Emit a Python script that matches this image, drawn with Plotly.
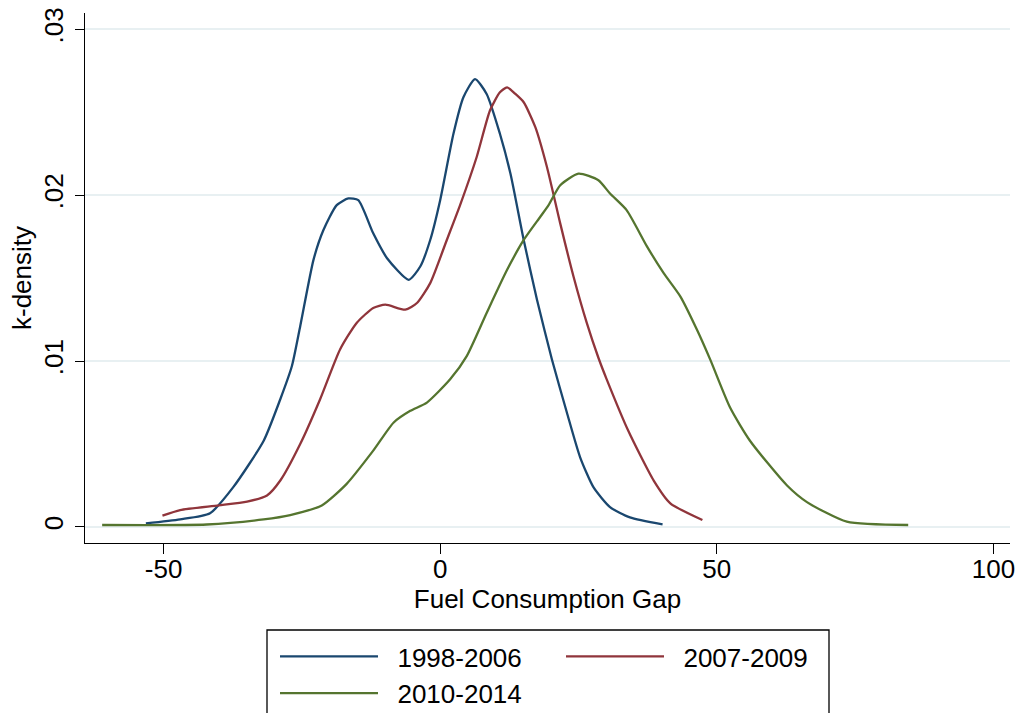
import plotly.graph_objects as go

# ---- data ----
x_1998 = [-53.2, -47.0, -41.6, -37.4, -31.9, -28.9, -26.8, -25.3, -22.9, -21.1, -18.7, -16.6, -14.8,
          -12.1, -9.6, -5.7, -3.6, -1.8, 0.0, 2.4, 4.2, 6.3, 8.4, 10.8, 12.7, 15.1, 17.5, 20.2,
          22.9, 25.3, 27.7, 30.7, 34.3, 40.2]
y_1998 = [0.00022, 0.00046, 0.00083, 0.0024, 0.0052, 0.0077, 0.0097, 0.0121, 0.0161, 0.0179, 0.0194,
          0.0198, 0.0197, 0.0177, 0.0162, 0.0149, 0.0157, 0.0173, 0.0197, 0.0237, 0.0259, 0.0270,
          0.0261, 0.0237, 0.0213, 0.0173, 0.0137, 0.0101, 0.0069, 0.0042, 0.0024, 0.0012, 0.00058,
          0.00016]

x_2007 = [-50.2, -47.0, -40.0, -34.9, -31.3, -28.9, -25.3, -21.7, -18.1, -15.1, -12.1, -9.9, -6.3,
          -4.2, -1.8, 1.2, 3.6, 6.6, 9.0, 10.8, 12.1, 13.6, 15.1, 17.2, 19.3, 21.7, 24.1, 26.5,
          28.6, 30.1, 34.0, 38.6, 41.6, 47.4]
y_2007 = [0.00068, 0.00102, 0.0013, 0.00153, 0.0019, 0.0028, 0.0050, 0.0077, 0.0107, 0.0123, 0.0132,
          0.0134, 0.0131, 0.0135, 0.0147, 0.0173, 0.0194, 0.0223, 0.0251, 0.0262, 0.0265, 0.0261,
          0.0256, 0.0241, 0.0217, 0.0183, 0.0151, 0.0123, 0.0102, 0.0089, 0.0058, 0.0028, 0.00143,
          0.00042]

x_2010 = [-61.1, -42.2, -31.9, -27.1, -21.4, -16.9, -12.1, -8.4, -5.4, -2.4, 1.8, 4.8, 8.4, 12.1,
          15.1, 18.1, 19.6, 21.7, 25.0, 28.6, 30.7, 33.7, 37.4, 40.4, 43.4, 46.4, 48.8, 52.4, 56.0,
          62.7, 66.3, 73.5, 84.6]
y_2010 = [0.00012, 0.00015, 0.00046, 0.00072, 0.0013, 0.0026, 0.0046, 0.0063, 0.0070, 0.0075, 0.0089,
          0.0103, 0.0129, 0.0155, 0.0173, 0.0187, 0.0194, 0.0206, 0.0213, 0.0209, 0.0201, 0.0191,
          0.0169, 0.0153, 0.0139, 0.0119, 0.0101, 0.0072, 0.0052, 0.0025, 0.0015, 0.00032, 0.00012]

x_ticks = [-50, 0, 50, 100]
x_tick_labels = ["-50", "0", "50", "100"]
y_ticks = [0, 0.01, 0.02, 0.03]
y_tick_labels = ["0", ".01", ".02", ".03"]

FONT = "Liberation Sans, Arial, sans-serif"
NBSP = "\u00a0\u00a0"

fig = go.Figure()
fig.add_trace(go.Scatter(x=x_1998, y=y_1998, mode="lines", name=NBSP + "1998-2006",
                         line=dict(color="#1a476f", width=2.3, shape="spline", smoothing=0.6),
                         legend="legend"))
fig.add_trace(go.Scatter(x=x_2007, y=y_2007, mode="lines", name=NBSP + "2007-2009",
                         line=dict(color="#90353b", width=2.3, shape="spline", smoothing=0.6),
                         legend="legend2"))
fig.add_trace(go.Scatter(x=x_2010, y=y_2010, mode="lines", name=NBSP + "2010-2014",
                         line=dict(color="#55752f", width=2.3, shape="spline", smoothing=0.6),
                         legend="legend"))

L, R, T, B = 85, 7, 13, 170
W, H = 1017, 713
pw = W - L - R
ph = H - T - B

def px2paper_x(px):
    return (px - L) / pw

def px2paper_y(py):
    return (H - B - py) / ph

fig.update_layout(
    width=W, height=H,
    margin=dict(l=L, r=R, t=T, b=B, autoexpand=False),
    paper_bgcolor="white", plot_bgcolor="white",
    font=dict(family=FONT, size=26, color="black"),
    showlegend=True,
    legend=dict(x=px2paper_x(275), y=px2paper_y(633), xanchor="left", yanchor="top",
                orientation="v", bgcolor="rgba(0,0,0,0)", borderwidth=0, itemwidth=98,
                font=dict(family=FONT, size=26, color="black"), tracegroupgap=0),
    legend2=dict(x=px2paper_x(561), y=px2paper_y(633), xanchor="left", yanchor="top",
                 orientation="v", bgcolor="rgba(0,0,0,0)", borderwidth=0, itemwidth=98,
                 font=dict(family=FONT, size=26, color="black")),
    shapes=[dict(type="rect", xref="paper", yref="paper",
                 x0=px2paper_x(267), x1=px2paper_x(829),
                 y0=px2paper_y(740), y1=px2paper_y(630),
                 line=dict(color="black", width=1.3), fillcolor="rgba(0,0,0,0)", layer="above")],
)

fig.update_xaxes(
    range=[-64.2, 103.0], tickvals=x_ticks, ticktext=x_tick_labels, automargin=False,
    showline=True, linecolor="black", linewidth=1.3, mirror=False,
    ticks="outside", ticklen=10, tickwidth=1.3, tickcolor="black",
    showgrid=False, zeroline=False, ticklabelstandoff=-7,
    tickfont=dict(family=FONT, size=26, color="black"),
    title=dict(text="Fuel Consumption Gap", font=dict(family=FONT, size=26, color="black"), standoff=4),
)
fig.update_yaxes(
    range=[-0.000965, 0.03098], tickvals=y_ticks, ticktext=y_tick_labels, automargin=False,
    showline=True, linecolor="black", linewidth=1.3, mirror=False,
    ticks="outside", ticklen=9, tickwidth=1.3, tickcolor="black",
    showgrid=True, gridcolor="#e8f0f2", gridwidth=2, zeroline=False,
    tickangle=-90, ticklabelstandoff=1,
    tickfont=dict(family=FONT, size=26, color="black"),
    title=dict(text="k-density", font=dict(family=FONT, size=26, color="black"), standoff=0),
)

fig.write_html("out.html")
